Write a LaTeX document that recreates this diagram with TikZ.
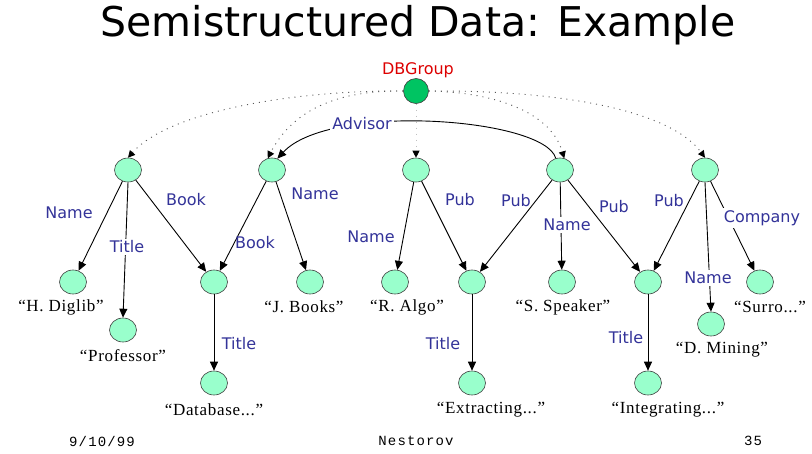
\documentclass[tikz,border=0pt]{standalone}
\usepackage{fontspec}
\setmainfont{Liberation Serif}
\newfontfamily\valfont[LetterSpace=4]{Liberation Serif}
\newfontfamily\labfont{DejaVu Sans}
\newfontfamily\footfont[LetterSpace=8]{Liberation Mono}
\usetikzlibrary{shapes.geometric,arrows.meta}
\definecolor{leaf}{HTML}{99FFCC}
\definecolor{rootgreen}{HTML}{00C462}
\definecolor{lblue}{HTML}{333399}
\definecolor{lred}{HTML}{DD0000}
\tikzset{
  obj/.style={ellipse, draw=black!75, fill=leaf, minimum width=27pt,
    minimum height=24pt, inner sep=0pt, line width=0.6pt},
  lab/.style={font=\labfont\fontsize{16}{16}\selectfont, text=lblue, inner sep=1pt},
  cut/.style={lab, fill=white, inner sep=2pt},
  val/.style={font=\valfont\fontsize{17}{17}\selectfont, inner sep=0pt},
  edge/.style={line width=0.9pt, -{Triangle[length=9pt,width=8pt]}},
  refedge/.style={black!65, line width=0.9pt, dash pattern=on 1pt off 5pt,
    -{Triangle[length=7pt,width=7pt,black]}},
  foot/.style={font=\footfont\fontsize{14}{14}\selectfont, inner sep=0pt}
}
\begin{document}
\begin{tikzpicture}[x=1pt,y=-1pt]
\useasboundingbox[fill=white] (0,0) rectangle (812,453);

% heading
\node[font=\labfont\fontsize{41}{41}\selectfont] (heading) at (418,25) {Semistructured Data: Example};

% root object
\node[circle, draw=black!75, fill=rootgreen, minimum size=25pt, inner sep=0pt, line width=0.6pt] (root) at (416,91) {};
\node[font=\labfont\fontsize{16}{16}\selectfont, text=lred] (rootname) at (418,70) {DBGroup};

% first level objects
\node[obj] (p1) at (128,170) {};
\node[obj] (p2) at (272,170) {};
\node[obj] (p3) at (416,170) {};
\node[obj] (p4) at (560,170) {};
\node[obj] (p5) at (705,170) {};

% second level objects
\node[obj] (diglib)   at (73,282) {};
\node[obj] (book)     at (214,282) {};
\node[obj] (jbooks)   at (310,282) {};
\node[obj] (algo)     at (395,282) {};
\node[obj] (pubx)     at (472,282) {};
\node[obj] (speaker)  at (562,282) {};
\node[obj] (pubi)     at (648,282) {};
\node[obj] (surro)    at (760,282) {};
\node[obj] (prof)     at (123,330) {};
\node[obj] (mining)   at (711,324) {};
\node[obj] (dbtitle)  at (214,383) {};
\node[obj] (extitle)  at (472,383) {};
\node[obj] (intitle)  at (648,383) {};

% references from the root
\draw[refedge] (root.west) .. controls (300,90) and (170,110) .. (p1.north);
\draw[refedge] (root.west) .. controls (330,90) and (290,115) .. (p2.110);
\draw[refedge, black!25] (root.south) -- (p3.north);
\draw[refedge] (root.east) .. controls (490,92) and (550,110) .. (p4.70);
\draw[refedge] (root.east) .. controls (560,90) and (670,110) .. (p5.north);

% advisor reference
\draw[edge] (p4.110) .. controls (545,118) and (330,102) .. (p2.65);
\node[cut] (advisor) at (362,124) {Advisor};

% labelled edges
\draw[edge] (p1) -- (diglib);
\draw[edge] (p1.south) -- (prof.north);
\draw[edge] (p1) -- (book);
\draw[edge] (p2) -- (book);
\draw[edge] (p2) -- (jbooks);
\draw[edge] (p3) -- (algo);
\draw[edge] (p3) -- (pubx);
\draw[edge] (p4) -- (pubx);
\draw[edge] (p4) -- (speaker);
\draw[edge] (p4) -- (pubi);
\draw[edge] (p5) -- (pubi);
\draw[edge] (p5.south) -- (mining.north);
\draw[edge] (p5) -- (surro);
\draw[edge] (book) -- (dbtitle);
\draw[edge] (pubx) -- (extitle);
\draw[edge] (pubi) -- (intitle);

% edge labels
\node[lab] (l1) at (69,213) {Name};
\node[cut] (l2) at (127,247) {Title};
\node[lab] (l3) at (186,200) {Book};
\node[lab] (l4) at (315,194) {Name};
\node[lab] (l5) at (255,243) {Book};
\node[lab] (l6) at (371,237) {Name};
\node[lab] (l7) at (460,200) {Pub};
\node[lab] (l8) at (516,201) {Pub};
\node[cut] (l9) at (567,225) {Name};
\node[lab] (l10) at (614,207) {Pub};
\node[lab] (l11) at (669,201) {Pub};
\node[cut] (l12) at (762,218) {Company};
\node[cut] (l13) at (708,278) {Name};
\node[lab] (l14) at (239,344) {Title};
\node[lab] (l15) at (443,344) {Title};
\node[lab] (l16) at (626,338) {Title};

% atomic values
\node[val] (v1) at (61,307) {“H. Diglib”};
\node[val] (v2) at (304,307) {“J. Books”};
\node[val] (v3) at (407,307) {“R. Algo”};
\node[val] (v4) at (563,307) {“S. Speaker”};
\node[val] (v5) at (770,307) {“Surro...”};
\node[val] (v6) at (123,356) {“Professor”};
\node[val] (v7) at (722,350) {“D. Mining”};
\node[val] (v8) at (214,410) {“Database...”};
\node[val] (v9) at (491,410) {“Extracting...”};
\node[val] (v10) at (668,410) {“Integrating...”};

% footer
\node[foot] (date) at (102,441) {9/10/99};
\node[foot] (author) at (416,441) {Nestorov};
\node[foot] (page) at (753,441) {35};
\end{tikzpicture}
\end{document}
